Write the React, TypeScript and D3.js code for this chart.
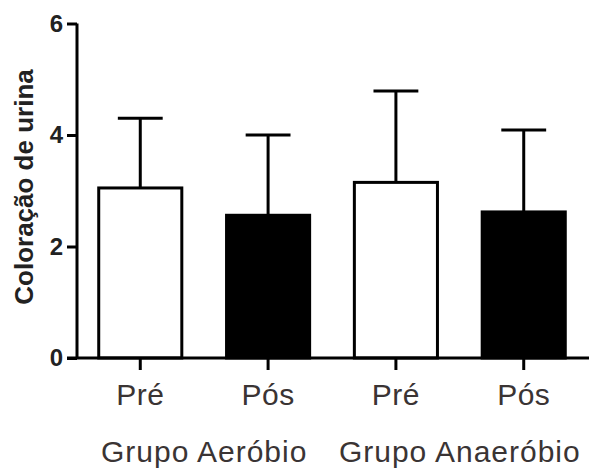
import React, { useEffect, useRef } from "react";
import * as d3 from "d3";

// bar labels and groups
const categories = ["Aero Pré", "Aero Pós", "Anaero Pré", "Anaero Pós"];
const tickLabels = ["Pré", "Pós", "Pré", "Pós"];
const groupLabels = ["Grupo Aeróbio", "Grupo Anaeróbio"];
// means and standard deviations
const means = [3.05, 2.56, 3.15, 2.62];
const sds = [1.25, 1.44, 1.64, 1.47];
const fills = ["white", "black", "white", "black"];
const yTicks = [0, 2, 4, 6];

export default function App() {
  const ref = useRef<SVGSVGElement>(null);

  useEffect(() => {
    const width = 592;
    const height = 468;
    const svg = d3.select(ref.current);
    svg.selectAll("*").remove();

    const x = d3
      .scaleBand()
      .domain(categories)
      .range([77, 587])
      .paddingInner(0.35)
      .paddingOuter(0.17);
    const y = d3.scaleLinear().domain([0, 6]).range([358, 23.5]);

    const data = categories.map((c, i) => ({
      name: c,
      mean: means[i],
      sd: sds[i],
      fill: fills[i],
      label: tickLabels[i],
    }));

    // error bars (upper only)
    const capW = x.bandwidth() * 0.54;
    const err = svg.append("g").attr("stroke", "black").attr("stroke-width", 3);
    err
      .selectAll("line.stem")
      .data(data)
      .enter()
      .append("line")
      .attr("x1", (d) => x(d.name)! + x.bandwidth() / 2)
      .attr("x2", (d) => x(d.name)! + x.bandwidth() / 2)
      .attr("y1", (d) => y(d.mean))
      .attr("y2", (d) => y(d.mean + d.sd));
    err
      .selectAll("line.cap")
      .data(data)
      .enter()
      .append("line")
      .attr("x1", (d) => x(d.name)! + x.bandwidth() / 2 - capW / 2)
      .attr("x2", (d) => x(d.name)! + x.bandwidth() / 2 + capW / 2)
      .attr("y1", (d) => y(d.mean + d.sd))
      .attr("y2", (d) => y(d.mean + d.sd));

    // bars
    svg
      .selectAll("rect.bar")
      .data(data)
      .enter()
      .append("rect")
      .attr("x", (d) => x(d.name)!)
      .attr("width", x.bandwidth())
      .attr("y", (d) => y(d.mean))
      .attr("height", (d) => y(0) - y(d.mean))
      .attr("fill", (d) => d.fill)
      .attr("stroke", "black")
      .attr("stroke-width", 3);

    // y axis
    const yAxis = svg
      .append("g")
      .attr("transform", "translate(77,0)")
      .call(d3.axisLeft(y).tickValues(yTicks).tickSize(10).tickPadding(4).tickFormat(d3.format("d")));
    yAxis.select(".domain").attr("stroke-width", 3).attr("d", `M0,${y(6)}V${y(0)}`);
    yAxis.selectAll(".tick line").attr("stroke-width", 3);
    yAxis
      .selectAll(".tick text")
      .attr("font-family", "Liberation Sans, Arial, sans-serif")
      .attr("font-size", 24)
      .attr("font-weight", "bold")
      .attr("fill", "#222");

    // x axis
    const xAxis = svg
      .append("g")
      .attr("transform", `translate(0,${y(0)})`)
      .call(
        d3
          .axisBottom(x)
          .tickSize(12)
          .tickPadding(14)
          .tickFormat((d, i) => tickLabels[i])
      );
    xAxis.select(".domain").attr("stroke-width", 3).attr("d", `M67,0H589`);
    xAxis.selectAll(".tick line").attr("stroke-width", 3);
    xAxis
      .selectAll(".tick text")
      .attr("font-family", "Liberation Sans, Arial, sans-serif")
      .attr("font-size", 30)
      .attr("letter-spacing", 0.5)
      .attr("fill", "#3a3434");

    // group labels
    svg
      .selectAll("text.group")
      .data(groupLabels)
      .enter()
      .append("text")
      .attr("x", (d, i) => {
        const a = x(categories[i * 2])! + x.bandwidth() / 2;
        const b = x(categories[i * 2 + 1])! + x.bandwidth() / 2;
        return (a + b) / 2;
      })
      .attr("y", 462)
      .attr("text-anchor", "middle")
      .attr("font-family", "Liberation Sans, Arial, sans-serif")
      .attr("font-size", 30)
      .attr("letter-spacing", 1)
      .attr("fill", "#3a3434")
      .text((d) => d);

    // y axis title
    svg
      .append("text")
      .attr("transform", `translate(33,187) rotate(-90)`)
      .attr("text-anchor", "middle")
      .attr("font-family", "Liberation Sans, Arial, sans-serif")
      .attr("font-size", 26)
      .attr("font-weight", "bold")
      .attr("fill", "#222")
      .text("Coloração de urina");

    svg.attr("width", width).attr("height", height);
  }, []);

  return (
    <svg
      ref={ref}
      width={592}
      height={468}
      style={{ position: "absolute", left: 0, top: 0, background: "white" }}
    />
  );
}
